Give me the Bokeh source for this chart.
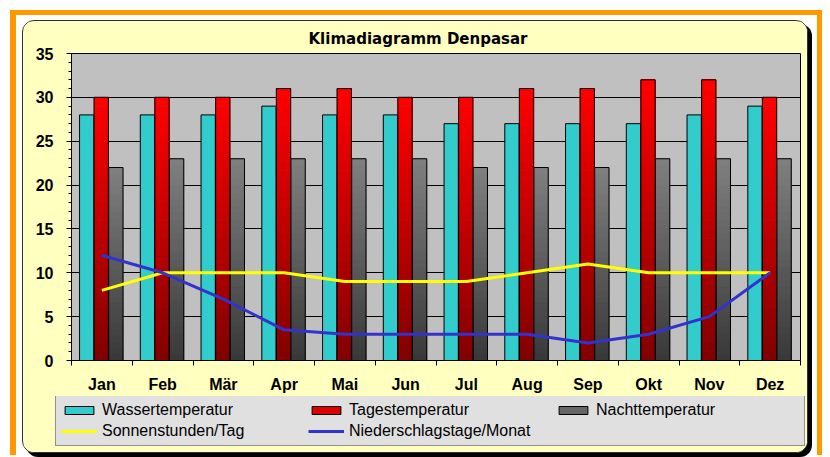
import numpy as np
from bokeh.plotting import figure
from bokeh.models import (Range1d, FixedTicker, SingleIntervalTicker, ColumnDataSource,
                          Legend, LegendItem)
from bokeh.layouts import column
from bokeh.embed import file_html
from bokeh.resources import INLINE

# ---- data ----
months = ["Jan", "Feb", "Mär", "Apr", "Mai", "Jun", "Jul", "Aug", "Sep", "Okt", "Nov", "Dez"]
wasser = [28, 28, 28, 29, 28, 28, 27, 27, 27, 27, 28, 29]
tag = [30, 30, 30, 31, 31, 30, 30, 31, 31, 32, 32, 30]
nacht = [22, 23, 23, 23, 23, 23, 22, 22, 22, 23, 23, 23]
sonne = [8, 10, 10, 10, 9, 9, 9, 10, 11, 10, 10, 10]
regen = [12, 10, 7, 3.5, 3, 3, 3, 3, 2, 3, 5, 10]
series_names = ["Wassertemperatur", "Tagestemperatur", "Nachttemperatur",
                "Sonnenstunden/Tag", "Niederschlagstage/Monat"]
y_ticks_interval = 5

CREAM = "#FFFFC0"
n = len(months)
x = np.arange(n) + 0.5

p = figure(frame_width=729, frame_height=307,
           x_range=Range1d(0, n), y_range=Range1d(0, 35),
           output_backend="svg", toolbar_location=None,
           min_border_left=48, min_border_right=7, min_border_top=31, min_border_bottom=36,
           background_fill_color="#C0C0C0", border_fill_color=CREAM,
           outline_line_color="black", outline_line_width=1,
           title="Klimadiagramm Denpasar")

p.title.text_font = "DejaVu Sans"
p.title.text_font_style = "bold"
p.title.text_font_size = "15px"
p.title.align = "left"
p.title.offset = 237
p.title.standoff = 12
p.title.text_color = "black"

p.xgrid.visible = False
p.ygrid.grid_line_color = "black"
p.ygrid.grid_line_width = 1

bw = 0.235
offsets = [-0.25, -0.01, 0.23]


def hexcol(rgb):
    return "#%02x%02x%02x" % tuple(int(round(c)) for c in rgb)


def gradient_bar(values, off, c_top, c_bot, steps=30):
    xs = x + off
    sx, sb, st, sc = [], [], [], []
    for xi, v in zip(xs, values):
        for k in range(steps):
            f = (k + 0.5) / steps
            col = hexcol([cb + (ct - cb) * f for ct, cb in zip(c_top, c_bot)])
            sx.append(xi)
            sb.append(v * k / steps)
            st.append(v * (k + 1) / steps)
            sc.append(col)
    src = ColumnDataSource(dict(x=sx, bottom=sb, top=st, color=sc))
    p.vbar(x="x", bottom="bottom", top="top", width=bw, source=src,
           fill_color="color", line_color="color", line_width=1)
    p.vbar(x=xs, top=values, width=bw, fill_alpha=0, line_color="black", line_width=1)


p.vbar(x=x + offsets[0], top=wasser, width=bw, fill_color="#33CCCC", line_color="black")
gradient_bar(tag, offsets[1], (255, 0, 0), (128, 0, 0))
gradient_bar(nacht, offsets[2], (128, 128, 128), (56, 56, 56))

p.line(x, sonne, line_color="#FFFF00", line_width=3)
p.line(x, regen, line_color="#3333CC", line_width=3)

# x axis
xa = p.xaxis[0]
xa.ticker = FixedTicker(ticks=list(x), minor_ticks=list(np.arange(n + 1)))
xa.major_label_overrides = {float(xi): m for xi, m in zip(x, months)}
xa.major_tick_out = 0
xa.major_tick_in = 0
xa.minor_tick_out = 5
xa.minor_tick_in = 0
xa.minor_tick_line_color = "black"
xa.axis_line_color = "black"
xa.major_label_standoff = 10
xa.major_label_text_font = "Liberation Sans"
xa.major_label_text_font_style = "bold"
xa.major_label_text_font_size = "16px"
xa.major_label_text_color = "black"

# y axis
ya = p.yaxis[0]
ya.ticker = SingleIntervalTicker(interval=y_ticks_interval, num_minor_ticks=5)
ya.major_tick_out = 5
ya.major_tick_in = 0
ya.minor_tick_out = 3
ya.minor_tick_in = 0
ya.major_tick_line_color = "black"
ya.minor_tick_line_color = "black"
ya.axis_line_color = "black"
ya.major_label_standoff = 13
ya.major_label_text_font = "Liberation Sans"
ya.major_label_text_font_style = "bold"
ya.major_label_text_font_size = "16px"
ya.major_label_text_color = "black"

# ---- legend strip: same series drawn out of view, only their legend swatches show ----
lg = figure(frame_width=784, frame_height=56, x_range=Range1d(0, n), y_range=Range1d(-2, -1),
            output_backend="svg", toolbar_location=None,
            x_axis_location=None, y_axis_location=None,
            min_border=0, background_fill_color=CREAM, border_fill_color=CREAM,
            outline_line_color=None)
lg.grid.visible = False
l_w = lg.vbar(x=x, top=wasser, width=bw, fill_color="#33CCCC", line_color="black")
l_t = lg.vbar(x=x, top=tag, width=bw, fill_color="#DD0000", line_color="black")
l_n = lg.vbar(x=x, top=nacht, width=bw, fill_color="#666666", line_color="black")
l_s = lg.line(x, sonne, line_color="#FFFF00", line_width=3)
l_r = lg.line(x, regen, line_color="#3333CC", line_width=3)

legend = Legend(items=[LegendItem(label=lab, renderers=[r])
                       for lab, r in zip(series_names, [l_w, l_t, l_n, l_s, l_r])],
                location=(32, 6), orientation="horizontal", ncols=3,
                glyph_width=36, glyph_height=10, label_standoff=5, label_width=203,
                spacing=3, padding=5, margin=0,
                label_text_font="Liberation Sans", label_text_font_size="16px",
                label_text_color="black",
                background_fill_color="#E0E0E0", background_fill_alpha=1,
                border_line_color="#404040", border_line_width=1)
lg.add_layout(legend)

panel = column(p, lg, spacing=0,
               styles={"background": CREAM, "border": "1px solid #303030",
                       "border-radius": "12px", "box-shadow": "4px 4px 0 #000",
                       "overflow": "hidden"})

layout = column(panel, styles={"border-top": "5px solid #FF9900",
                               "border-left": "6px solid #FF9900",
                               "border-right": "5px solid #FF9900",
                               "padding": "5px 9px 2px 6px",
                               "margin": "10px 0 0 10px",
                               "background": "white"})

open("out.html", "w").write(file_html(layout, INLINE))
